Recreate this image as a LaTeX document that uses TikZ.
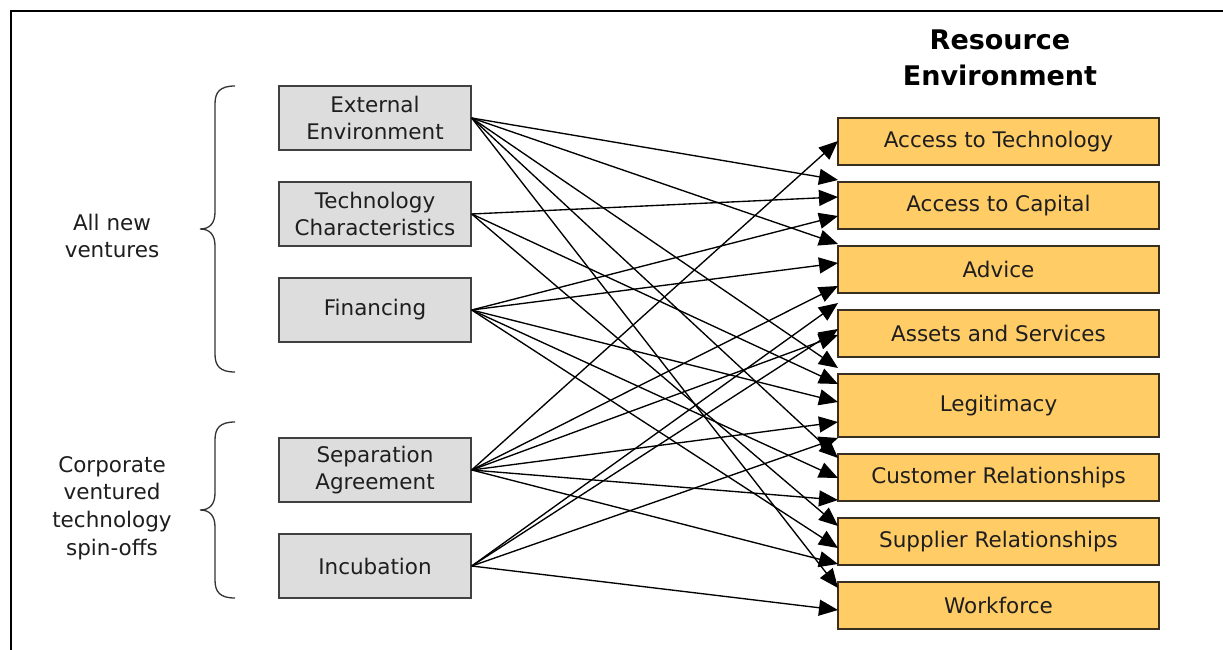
\documentclass[tikz,border=0pt]{standalone}
\usepackage{fontspec}
\setmainfont{DejaVu Sans}
\usetikzlibrary{arrows.meta}
\definecolor{lgray}{HTML}{DDDDDD}
\definecolor{bgray}{HTML}{404040}
\definecolor{orng}{HTML}{FFCC66}
\definecolor{obrd}{HTML}{3A2E1E}
\definecolor{txt}{HTML}{1E1E1E}
\begin{document}
\begin{tikzpicture}[x=1pt,y=-1pt,
  lbox/.style={draw=bgray,line width=1.4pt,fill=lgray,minimum width=192pt,minimum height=64pt,inner sep=0pt,align=center,text=txt,font=\fontsize{21.5}{27}\selectfont},
  rbox/.style={draw=obrd,line width=1.4pt,fill=orng,minimum width=321pt,inner sep=0pt,align=center,text=txt,font=\fontsize{21.5}{27}\selectfont},
  sbox/.style={rbox,minimum height=47pt},
  tbox/.style={rbox,minimum height=63pt},
  lbl/.style={align=center,text=txt,font=\fontsize{21.5}{27.6}\selectfont},
  arr/.style={line width=1.35pt,-{Triangle[length=19pt,width=16pt]}},
  brace/.style={line width=1.3pt,draw=black!80}
]
\useasboundingbox (0,0) rectangle (1223,650);
\fill[white] (0,0) rectangle (1223,650);
\draw[line width=2pt] (11,650) -- (11,11) -- (1223,11);

% heading
\node[font=\bfseries\fontsize{27}{36}\selectfont,align=center] (head) at (1000,58) {Resource\\Environment};

% left boxes
\node[lbox] (ee)  at (375,118) {External\\Environment};
\node[lbox] (tc)  at (375,214) {Technology\\Characteristics};
\node[lbox] (fin) at (375,310) {Financing};
\node[lbox] (sa)  at (375,470) {Separation\\Agreement};
\node[lbox] (inc) at (375,566) {Incubation};

% right boxes
\node[sbox] (tech) at (998.5,141.5) {Access to Technology};
\node[sbox] (cap)  at (998.5,205.5) {Access to Capital};
\node[sbox] (adv)  at (998.5,269.5) {Advice};
\node[sbox] (ass)  at (998.5,333.5) {Assets and Services};
\node[tbox] (leg)  at (998.5,405.5) {Legitimacy};
\node[sbox] (cus)  at (998.5,477.5) {Customer Relationships};
\node[sbox] (sup)  at (998.5,541.5) {Supplier Relationships};
\node[sbox] (wf)   at (998.5,605.5) {Workforce};

% left labels and braces
\node[lbl] (alln) at (112,236) {All new\\ventures};
\node[lbl] (corp) at (112,508) {Corporate\\ventured\\technology\\spin-offs};
\draw[brace] (235,86) .. controls (220,86) and (215,92) .. (215,104) -- (215,212)
  .. controls (215,223) and (210,229) .. (200,229)
  .. controls (210,229) and (215,235) .. (215,246) -- (215,354)
  .. controls (215,366) and (220,372) .. (235,372);
\draw[brace] (235,422) .. controls (220,422) and (215,428) .. (215,440) -- (215,493)
  .. controls (215,504) and (210,510) .. (200,510)
  .. controls (210,510) and (215,516) .. (215,527) -- (215,580)
  .. controls (215,592) and (220,598) .. (235,598);

% target points on the left side of the resource boxes
\coordinate (t1)  at (838,141);
\coordinate (c1)  at (838,180);
\coordinate (c2)  at (838,197);
\coordinate (c3)  at (838,216);
\coordinate (a1)  at (838,244);
\coordinate (a2)  at (838,263);
\coordinate (a3)  at (838,286);
\coordinate (s1)  at (838,303);
\coordinate (s2)  at (838,329);
\coordinate (s3)  at (838,335);
\coordinate (l1)  at (838,368);
\coordinate (l2)  at (838,384);
\coordinate (l3)  at (838,402);
\coordinate (l4)  at (838,422);
\coordinate (l5)  at (838,438);
\coordinate (u1)  at (838,458);
\coordinate (u2)  at (838,478);
\coordinate (u3)  at (838,500);
\coordinate (p1)  at (838,526);
\coordinate (p2)  at (838,548);
\coordinate (p3)  at (838,564);
\coordinate (w1)  at (838,588);
\coordinate (w2)  at (838,610);

% External Environment
\draw[arr] (ee.east) -- (c1);
\draw[arr] (ee.east) -- (a1);
\draw[arr] (ee.east) -- (l1);
\draw[arr] (ee.east) -- (u1);
\draw[arr] (ee.east) -- (w1);
% Technology Characteristics
\draw[arr] (tc.east) -- (c2);
\draw[arr] (tc.east) -- (l2);
\draw[arr] (tc.east) -- (p1);
% Financing
\draw[arr] (fin.east) -- (c3);
\draw[arr] (fin.east) -- (a2);
\draw[arr] (fin.east) -- (l3);
\draw[arr] (fin.east) -- (u2);
\draw[arr] (fin.east) -- (p2);
% Separation Agreement
\draw[arr] (sa.east) -- (t1);
\draw[arr] (sa.east) -- (a3);
\draw[arr] (sa.east) -- (s3);
\draw[arr] (sa.east) -- (l4);
\draw[arr] (sa.east) -- (u3);
\draw[arr] (sa.east) -- (p3);
% Incubation
\draw[arr] (inc.east) -- (s1);
\draw[arr] (inc.east) -- (s2);
\draw[arr] (inc.east) -- (l5);
\draw[arr] (inc.east) -- (w2);
\end{tikzpicture}
\end{document}
